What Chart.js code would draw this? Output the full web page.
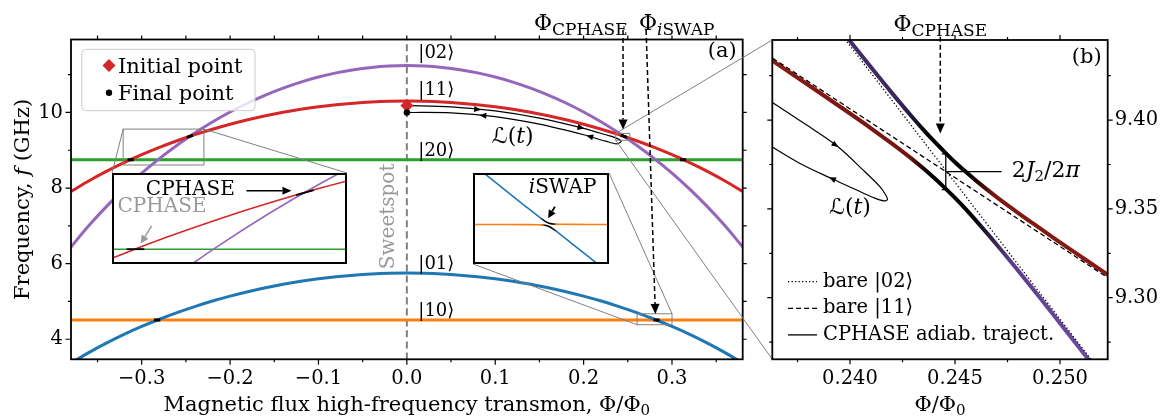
<!DOCTYPE html>
<html lang="en">
<head>
<meta charset="UTF-8">
<title>Transmon spectrum and CPHASE trajectory</title>
<script src="https://cdn.jsdelivr.net/npm/chart.js"></script>
<style>
  html, body { margin: 0; padding: 0; background: #fff; }
  #wrap { position: relative; width: 1165px; height: 420px; overflow: hidden; }
  #wrap canvas { position: absolute; }
</style>
</head>
<body>
<div id="wrap">
  <canvas id="chartA" width="1165" height="420" style="left:0;top:0"></canvas>
  <canvas id="chartB" width="1165" height="420" style="left:0;top:0"></canvas>
  <canvas id="inset1" width="235" height="91" style="left:112px;top:173px"></canvas>
  <canvas id="inset2" width="136" height="91" style="left:473px;top:173px"></canvas>
</div>
<script>
// ---------- panel (a): energy levels vs flux ----------
const flux = [-0.38, -0.36, -0.34, -0.32, -0.30, -0.28, -0.26, -0.24, -0.22, -0.20, -0.18, -0.16, -0.14, -0.12, -0.10, -0.08, -0.06, -0.04, -0.02, 0.00,
  0.02, 0.04, 0.06, 0.08, 0.10, 0.12, 0.14, 0.16, 0.18, 0.20, 0.22, 0.24, 0.26, 0.28, 0.30, 0.32, 0.34, 0.36, 0.38];
const level01 = [3.371, 3.648, 3.899, 4.129, 4.338, 4.530, 4.706, 4.865, 5.011, 5.142, 5.259, 5.363, 5.455, 5.534, 5.600, 5.654, 5.696, 5.726, 5.744, 5.750,
  5.744, 5.726, 5.696, 5.654, 5.600, 5.534, 5.455, 5.363, 5.259, 5.142, 5.011, 4.865, 4.706, 4.530, 4.338, 4.129, 3.899, 3.648, 3.371];
const level11 = [7.910, 8.188, 8.441, 8.671, 8.882, 9.075, 9.251, 9.412, 9.557, 9.689, 9.807, 9.912, 10.004, 10.083, 10.149, 10.204, 10.246, 10.276, 10.294, 10.300,
  10.294, 10.276, 10.246, 10.204, 10.149, 10.083, 10.004, 9.912, 9.807, 9.689, 9.557, 9.412, 9.251, 9.075, 8.882, 8.671, 8.441, 8.188, 7.910];
const level02 = [6.442, 7.001, 7.508, 7.970, 8.393, 8.780, 9.134, 9.456, 9.749, 10.013, 10.250, 10.461, 10.645, 10.804, 10.938, 11.047, 11.132, 11.192, 11.228, 11.240,
  11.228, 11.192, 11.132, 11.047, 10.938, 10.804, 10.645, 10.461, 10.250, 10.013, 9.749, 9.456, 9.134, 8.780, 8.393, 7.970, 7.508, 7.001, 6.442];
const levelFlux = [-0.38, 0.38];
const level10 = [4.51, 4.51];
const level20 = [8.75, 8.75];

const initialPoint = [0, 10.185];
const finalPoint = [0, 10.0];

// schematic trajectory L(t), out along the upper edge and back along the lower one
const loopFluxA = [0, 0.05, 0.10, 0.15, 0.20, 0.225, 0.237, 0.2425, 0.237, 0.225, 0.20, 0.15, 0.10, 0.05, 0];
const loopFreqA = [10.185, 10.15, 10.04, 9.85, 9.58, 9.41, 9.32, 9.235, 9.17, 9.24, 9.41, 9.69, 9.89, 9.99, 10.0];

// short black pieces at the level crossings
const crossMarks = [
  [[-0.3160, 8.75], [-0.3090, 8.75]],
  [[-0.2490, 9.340], [-0.2420, 9.396]],
  [[0.2420, 9.396], [0.2490, 9.340]],
  [[0.3090, 8.75], [0.3160, 8.75]],
  [[-0.2860, 4.51], [-0.2790, 4.51]],
  [[0.2790, 4.51], [0.2860, 4.51]]
];

const xRangeA = [-0.38, 0.38];
const yRangeA = [3.47, 11.93];
const xMajorA = [-0.3, -0.2, -0.1, 0, 0.1, 0.2, 0.3];
const xMinorA = [-0.35, -0.25, -0.15, -0.05, 0.05, 0.15, 0.25, 0.35];
const yMajorA = [4, 6, 8, 10];
const yMinorA = [5, 7, 9, 11];

// zoomed regions
const zoomCphase = { x: [-0.321, -0.2296], y: [8.61, 9.56] };
const zoomIswap = { x: [0.2605, 0.300], y: [4.385, 4.675] };

// gate fluxes (arrows)
const cphaseArrowA = [[0.2446, 12.18], [0.2446, 9.55]];
const iswapArrowA = [[0.2707, 12.18], [0.2812, 4.67]];
const loopArrowsA = [
  [[0.072, 10.100], [0.084, 10.074]],
  [[0.190, 9.634], [0.201, 9.573]],
  [[0.095, 9.900], [0.082, 9.926]],
  [[0.214, 9.315], [0.203, 9.390]]
];

// inset at the iSWAP point: avoided crossing of |01> and |10>
const fluxI = [0.2600, 0.2700, 0.2760, 0.2790, 0.2805, 0.2815, 0.2825, 0.2835, 0.2845, 0.2860, 0.2890, 0.2950, 0.3000];
const upperI = [4.7095, 4.6206, 4.5674, 4.5411, 4.5283, 4.5204, 4.5146, 4.5121, 4.5113, 4.5108, 4.5104, 4.5102, 4.5102];
const lowerI = [4.5099, 4.5098, 4.5096, 4.5092, 4.5086, 4.5076, 4.5045, 4.4981, 4.4901, 4.4772, 4.4508, 4.3976, 4.3532];

// ---------- panel (b): zoom on the |11>-|02> avoided crossing ----------
const xRangeB = [0.2363, 0.25227];
const yRangeB = [9.2653, 9.4451];
const xMajorB = [0.240, 0.245, 0.250];
const xMinorB = [0.2375, 0.2425, 0.2475];
const yMajorB = [9.30, 9.35, 9.40];
const yMinorB = [9.275, 9.325, 9.375, 9.425];

const bareFluxB = [0.2360, 0.2525];
const bare02B = [9.5035, 9.2494];
const bare11B = [9.4373, 9.3095];
const fluxB = [0.2360, 0.2380, 0.2400, 0.2410, 0.2420, 0.2430, 0.2435, 0.2440, 0.2445, 0.2450, 0.2455, 0.2460, 0.2470, 0.2480, 0.2490, 0.2500, 0.2510, 0.2525];
const upperB = [9.5050, 9.4746, 9.4445, 9.4297, 9.4152, 9.4012, 9.3945, 9.3881, 9.3821, 9.3763, 9.3710, 9.3659, 9.3565, 9.3478, 9.3394, 9.3311, 9.3231, 9.3111];
const lowerB = [9.4359, 9.4199, 9.4037, 9.3954, 9.3867, 9.3776, 9.3727, 9.3675, 9.3620, 9.3562, 9.3500, 9.3434, 9.3297, 9.3153, 9.3006, 9.2856, 9.2705, 9.2478];
const loopFluxB = [0.2360, 0.23794, 0.23937, 0.24063, 0.24143, 0.24171, 0.24178, 0.24162, 0.24111, 0.24016, 0.2392, 0.23762, 0.2360];
const loopFreqB = [9.4123, 9.3972, 9.3855, 9.3718, 9.3624, 9.3577, 9.3553, 9.3545, 9.3564, 9.3615, 9.3667, 9.3756, 9.3870];
const loopArrowsB = [
  [[0.2390, 9.3885], [0.23945, 9.3848]],
  [[0.2395, 9.3651], [0.2390, 9.3678]]
];
const cphaseArrowB = [[0.2443, 9.447], [0.2443, 9.3925]];
const gapFlux = 0.24456;
const gapLevels = [9.3609, 9.3810];
const gapLabelFlux = 0.24722;

// ---------- styles ----------
const FAM = '"DejaVu Serif", "DejaVu Sans", serif';
const C = { blue: '#1f77b4', orange: '#ff7f0e', green: '#2ca02c', red: '#d62728', purple: '#9467bd' };
Chart.defaults.font.family = FAM;
Chart.defaults.font.size = 21;
Chart.defaults.color = '#000';

const font = (size, style) => `${style || ''} ${size}px ${FAM}`.trim();
const pts = (xs, ys) => xs.map((x, i) => ({ x, y: ys[i] }));

function curve(xs, ys, color, width, extra) {
  return Object.assign({
    data: pts(xs, ys), showLine: true, borderColor: color, borderWidth: width,
    pointRadius: 0, fill: false, clip: 0, cubicInterpolationMode: 'monotone'
  }, extra || {});
}

function fluxGradient(chart, stops, fallback) {
  const xs = chart.scales.x;
  if (!chart.chartArea || !xs) return fallback;
  const x0 = xs.getPixelForValue(stops[0][0]);
  const x1 = xs.getPixelForValue(stops[stops.length - 1][0]);
  const g = chart.ctx.createLinearGradient(x0, 0, x1, 0);
  stops.forEach(([f, c]) => g.addColorStop(Math.min(1, Math.max(0, (xs.getPixelForValue(f) - x0) / (x1 - x0))), c));
  return g;
}

function richText(ctx, parts, x, y, align) {
  let w = 0;
  parts.forEach(p => { ctx.font = font(p[1], p[2]); w += ctx.measureText(p[0]).width; });
  let cx = align === 'center' ? x - w / 2 : align === 'right' ? x - w : x;
  ctx.textAlign = 'left';
  parts.forEach(p => {
    ctx.font = font(p[1], p[2]);
    ctx.fillText(p[0], cx, y + (p[3] || 0));
    cx += ctx.measureText(p[0]).width;
  });
}

function arrow(ctx, x0, y0, x1, y1, o) {
  const opt = Object.assign({ color: '#000', width: 1.5, dash: [], head: 9, half: 4, line: true }, o || {});
  const a = Math.atan2(y1 - y0, x1 - x0);
  const bx = x1 - opt.head * Math.cos(a), by = y1 - opt.head * Math.sin(a);
  if (opt.line) {
    ctx.beginPath();
    ctx.setLineDash(opt.dash);
    ctx.moveTo(x0, y0);
    ctx.lineTo(bx, by);
    ctx.strokeStyle = opt.color;
    ctx.lineWidth = opt.width;
    ctx.stroke();
    ctx.setLineDash([]);
  }
  ctx.beginPath();
  ctx.moveTo(x1, y1);
  ctx.lineTo(bx - opt.half * Math.sin(a), by + opt.half * Math.cos(a));
  ctx.lineTo(bx + opt.half * Math.sin(a), by - opt.half * Math.cos(a));
  ctx.closePath();
  ctx.fillStyle = opt.color;
  ctx.fill();
}

function seg(ctx, x0, y0, x1, y1) {
  ctx.beginPath(); ctx.moveTo(x0, y0); ctx.lineTo(x1, y1); ctx.stroke();
}

function frameTicks(chart, xMaj, xMin, yMaj, yMin, len) {
  const { ctx, chartArea: a } = chart;
  const X = v => chart.scales.x.getPixelForValue(v);
  const Y = v => chart.scales.y.getPixelForValue(v);
  ctx.save();
  ctx.strokeStyle = '#000';
  ctx.lineWidth = 1.2;
  ctx.beginPath();
  const xt = (v, b, t) => { const p = X(v); ctx.moveTo(p, a.bottom); ctx.lineTo(p, a.bottom + b); ctx.moveTo(p, a.top); ctx.lineTo(p, a.top - t); };
  const yt = (v, l, r) => { const p = Y(v); ctx.moveTo(a.left, p); ctx.lineTo(a.left - l, p); ctx.moveTo(a.right, p); ctx.lineTo(a.right + r, p); };
  xMaj.forEach(v => xt(v, len[0], len[2]));
  xMin.forEach(v => xt(v, len[1], len[3]));
  yMaj.forEach(v => yt(v, len[0], len[2]));
  yMin.forEach(v => yt(v, len[1], len[3]));
  ctx.stroke();
  ctx.lineWidth = 1.8;
  ctx.strokeRect(a.left, a.top, a.right - a.left, a.bottom - a.top);
  ctx.restore();
}

const signed = (v, d) => (v < -1e-9 ? '\u2212' : '') + Math.abs(v).toFixed(d);

function axisOpts(range, ticks, fmt, pad, extra) {
  return Object.assign({
    type: 'linear', min: range[0], max: range[1],
    grid: { display: false, drawTicks: false }, border: { display: false },
    afterBuildTicks: s => { s.ticks = ticks.map(v => ({ value: v })); },
    ticks: { autoSkip: false, maxRotation: 0, padding: pad, font: { size: 19.5 }, color: '#000', callback: fmt }
  }, extra);
}

const insetBox1 = { left: 112, top: 173, width: 235, height: 91 };
const insetBox2 = { left: 473, top: 173, width: 136, height: 91 };

// ---------- chart (b) ----------
const branchUpperStops = [[0.2360, '#563a84'], [0.2424, '#3a2757'], [0.2437, '#000'], [0.2457, '#000'], [0.2469, '#7d1712'], [0.2525, '#8c1a15']];
const branchLowerStops = [[0.2360, '#8c1a15'], [0.2428, '#731410'], [0.2437, '#000'], [0.2458, '#000'], [0.2476, '#5c3d8d'], [0.2525, '#7550ac']];

const panelB = {
  id: 'panelB',
  afterDraw(chart) {
    const { ctx, chartArea: a } = chart;
    const X = v => chart.scales.x.getPixelForValue(v);
    const Y = v => chart.scales.y.getPixelForValue(v);
    frameTicks(chart, xMajorB, xMinorB, yMajorB, yMinorB, [5, 3, 5, 3]);
    ctx.save();
    ctx.fillStyle = '#000';
    ctx.textBaseline = 'alphabetic';
    // gate flux arrow
    richText(ctx, [['\u03A6', 22], ['CPHASE', 17, '', 5]], X(cphaseArrowB[0][0]), 31, 'center');
    arrow(ctx, X(cphaseArrowB[0][0]), Y(cphaseArrowB[0][1]), X(cphaseArrowB[1][0]), Y(cphaseArrowB[1][1]), { dash: [5, 3], head: 10, half: 4.5 });
    // 2J2 bracket
    ctx.strokeStyle = '#000'; ctx.lineWidth = 1.3;
    const gx = X(gapFlux), g0 = Y(gapLevels[0]), g1 = Y(gapLevels[1]), gm = (g0 + g1) / 2;
    ctx.beginPath();
    ctx.moveTo(gx - 4, g1); ctx.lineTo(gx, g1); ctx.lineTo(gx, g0); ctx.lineTo(gx - 4, g0);
    ctx.stroke();
    seg(ctx, gx, gm, X(gapLabelFlux), gm);
    ctx.textBaseline = 'middle';
    richText(ctx, [['2', 22], ['J', 22, 'italic'], ['2', 15, '', 5], ['/2', 22], ['\u03C0', 22, 'italic']], X(gapLabelFlux) + 10, gm, 'left');
    // trajectory label and arrows
    richText(ctx, [['\u2112', 22], ['(', 22], ['t', 22, 'italic'], [')', 22]], X(0.2400), Y(9.3504), 'center');
    loopArrowsB.forEach(([p, q]) => arrow(ctx, X(p[0]), Y(p[1]), X(q[0]), Y(q[1]), { line: false, head: 7, half: 3 }));
    // legend
    const rows = [['bare |02\u27E9', [1.3, 2.2]], ['bare |11\u27E9', [5, 3]], ['CPHASE adiab. traject.', []]];
    rows.forEach((r, i) => {
      const y = 281.7 + i * 26.6;
      ctx.setLineDash(r[1]); ctx.lineWidth = 1.3;
      seg(ctx, 788, y, 817, y);
      ctx.setLineDash([]);
      ctx.font = font(19.5); ctx.textAlign = 'left'; ctx.textBaseline = 'middle';
      ctx.fillText(r[0], 823, y);
    });
    // panel label and axis title
    ctx.font = font(21); ctx.textAlign = 'right'; ctx.textBaseline = 'middle';
    ctx.fillText('(b)', a.right - 6, 57.5);
    ctx.textBaseline = 'alphabetic';
    richText(ctx, [['\u03A6/\u03A6', 21], ['0', 15, '', 4]], (a.left + a.right) / 2, 410.5, 'center');
    ctx.restore();
  }
};

const chartB = new Chart(document.getElementById('chartB'), {
  type: 'scatter',
  data: {
    datasets: [
      curve(bareFluxB, bare02B, '#000', 1.3, { borderDash: [1.3, 2.2], order: 1 }),
      curve(bareFluxB, bare11B, '#000', 1.3, { borderDash: [5, 3], order: 1 }),
      curve(fluxB, upperB, c => fluxGradient(c.chart, branchUpperStops, C.purple), 4, { order: 2 }),
      curve(fluxB, lowerB, c => fluxGradient(c.chart, branchLowerStops, C.red), 4, { order: 2 }),
      curve(loopFluxB, loopFreqB, '#000', 1.2, { cubicInterpolationMode: 'default', tension: 0.35, order: 0 })
    ]
  },
  options: {
    responsive: false, animation: false, devicePixelRatio: 1, events: [],
    layout: { padding: { left: 772.3, right: 7.3, top: 40, bottom: 20.7 } },
    plugins: { legend: { display: false }, tooltip: { enabled: false } },
    scales: {
      x: axisOpts(xRangeB, xMajorB, v => v.toFixed(3), 8, { afterFit: s => { s.height = 40; } }),
      y: axisOpts(yRangeB, yMajorB, v => v.toFixed(2), 7, { position: 'right', afterFit: s => { s.width = 50; } })
    }
  },
  plugins: [panelB]
});

// ---------- chart (a) ----------
const panelA = {
  id: 'panelA',
  afterDraw(chart) {
    const { ctx, chartArea: a } = chart;
    const X = v => chart.scales.x.getPixelForValue(v);
    const Y = v => chart.scales.y.getPixelForValue(v);
    frameTicks(chart, xMajorA, xMinorA, yMajorA, yMinorA, [5.5, 3, 4, 4]);
    ctx.save();
    // zoom rectangles and connectors
    ctx.strokeStyle = '#808080'; ctx.lineWidth = 1;
    const bz = { x: xRangeB, y: yRangeB };
    [zoomCphase, zoomIswap, bz].forEach(z => {
      ctx.strokeRect(X(z.x[0]), Y(z.y[1]), X(z.x[1]) - X(z.x[0]), Y(z.y[0]) - Y(z.y[1]));
    });
    seg(ctx, X(zoomCphase.x[0]), Y(zoomCphase.y[1]), insetBox1.left, insetBox1.top);
    seg(ctx, X(zoomCphase.x[1]), Y(zoomCphase.y[1]), insetBox1.left + insetBox1.width, insetBox1.top);
    seg(ctx, X(zoomIswap.x[0]), Y(zoomIswap.y[0]), insetBox2.left, insetBox2.top + insetBox2.height);
    seg(ctx, X(zoomIswap.x[1]), Y(zoomIswap.y[1]), insetBox2.left + insetBox2.width, insetBox2.top);
    const bArea = chartB.chartArea;
    seg(ctx, X(bz.x[0]), Y(bz.y[1]), bArea.left, bArea.top);
    seg(ctx, X(bz.x[0]), Y(bz.y[0]), bArea.left, bArea.bottom);

    // legend
    ctx.beginPath();
    ctx.roundRect(81.7, 49.3, 173.3, 61.4, 4);
    ctx.fillStyle = 'rgba(255,255,255,0.8)'; ctx.fill();
    ctx.strokeStyle = '#cccccc'; ctx.lineWidth = 1; ctx.stroke();
    ctx.fillStyle = C.red;
    ctx.beginPath();
    ctx.moveTo(109, 59); ctx.lineTo(115.5, 65.5); ctx.lineTo(109, 72); ctx.lineTo(102.5, 65.5); ctx.closePath(); ctx.fill();
    ctx.fillStyle = '#000';
    ctx.beginPath(); ctx.arc(109, 92.7, 3.2, 0, Math.PI * 2); ctx.fill();
    ctx.font = font(21); ctx.textAlign = 'left'; ctx.textBaseline = 'alphabetic';
    ctx.fillText('Initial point', 118, 72.5);
    ctx.fillText('Final point', 118, 99.5);

    // level labels
    ctx.font = font(18); ctx.textBaseline = 'middle';
    [['|02\u27E9', 11.574], ['|11\u27E9', 10.595], ['|20\u27E9', 8.98], ['|01\u27E9', 5.99], ['|10\u27E9', 4.75]].forEach(([t, f]) => {
      ctx.fillText(t, X(0.013), Y(f));
    });
    // sweetspot
    ctx.save();
    ctx.translate(X(-0.0205), Y(7.25));
    ctx.rotate(-Math.PI / 2);
    ctx.font = font(20); ctx.fillStyle = '#999999'; ctx.textAlign = 'center'; ctx.textBaseline = 'middle';
    ctx.fillText('Sweetspot', 0, 0);
    ctx.restore();
    // trajectory label and arrows
    ctx.fillStyle = '#000';
    richText(ctx, [['\u2112', 22], ['(', 22], ['t', 22, 'italic'], [')', 22]], X(0.1198), Y(9.339), 'center');
    loopArrowsA.forEach(([p, q]) => arrow(ctx, X(p[0]), Y(p[1]), X(q[0]), Y(q[1]), { line: false, head: 7, half: 3 }));
    // gate arrows
    ctx.textBaseline = 'alphabetic';
    richText(ctx, [['\u03A6', 22], ['CPHASE', 17, '', 5]], 534, 30, 'left');
    richText(ctx, [['\u03A6', 22], ['i', 17, 'italic', 5], ['SWAP', 17, '', 5]], 639, 30, 'left');
    arrow(ctx, X(cphaseArrowA[0][0]), Y(cphaseArrowA[0][1]), X(cphaseArrowA[1][0]), Y(cphaseArrowA[1][1]), { dash: [5, 3], head: 10, half: 4.5 });
    arrow(ctx, X(iswapArrowA[0][0]), Y(iswapArrowA[0][1]), X(iswapArrowA[1][0]), Y(iswapArrowA[1][1]), { dash: [5, 3], head: 10, half: 4.5 });
    // panel label, axis titles
    ctx.fillStyle = '#000';
    ctx.font = font(21); ctx.textAlign = 'right'; ctx.textBaseline = 'middle';
    ctx.fillText('(a)', a.right - 6, 51.7);
    ctx.textBaseline = 'alphabetic';
    richText(ctx, [['Magnetic flux high-frequency transmon, \u03A6/\u03A6', 21], ['0', 15, '', 4]], (a.left + a.right) / 2, 410.5, 'center');
    ctx.save();
    ctx.translate(29.3, (a.top + a.bottom) / 2);
    ctx.rotate(-Math.PI / 2);
    richText(ctx, [['Frequency, ', 21], ['f', 21, 'italic'], [' (GHz)', 21]], 0, 0, 'center');
    ctx.restore();
    ctx.restore();
  }
};

const chartA = new Chart(document.getElementById('chartA'), {
  type: 'scatter',
  data: {
    datasets: [
      curve([0, 0], yRangeA, '#808080', 2, { borderDash: [7, 4], order: 10 }),
      curve(levelFlux, level10, C.orange, 3, { order: 6 }),
      curve(flux, level01, C.blue, 3, { order: 5 }),
      curve(levelFlux, level20, C.green, 3, { order: 6 }),
      curve(flux, level02, C.purple, 3, { order: 5 }),
      curve(flux, level11, C.red, 3, { order: 4 }),
      ...crossMarks.map(m => curve([m[0][0], m[1][0]], [m[0][1], m[1][1]], '#000', 3, { order: 3 })),
      curve(loopFluxA, loopFreqA, '#000', 1.2, { cubicInterpolationMode: 'default', tension: 0.3, order: 2 }),
      { data: [{ x: initialPoint[0], y: initialPoint[1] }], pointStyle: 'rectRot', pointRadius: 6.5, backgroundColor: C.red, borderWidth: 0, order: 1 },
      { data: [{ x: finalPoint[0], y: finalPoint[1] }], pointStyle: 'circle', pointRadius: 3.2, backgroundColor: '#000', borderWidth: 0, order: 0 }
    ]
  },
  options: {
    responsive: false, animation: false, devicePixelRatio: 1, events: [],
    layout: { padding: { left: 31, right: 422.3, top: 39.5, bottom: 20.7 } },
    plugins: { legend: { display: false }, tooltip: { enabled: false } },
    scales: {
      x: axisOpts(xRangeA, xMajorA, v => signed(v, 1), 8, { afterFit: s => { s.height = 40; } }),
      y: axisOpts(yRangeA, yMajorA, v => String(v), 8, { afterFit: s => { s.width = 40; } })
    }
  },
  plugins: [panelA]
});

// ---------- insets ----------
function insetFrame(notes) {
  return {
    id: 'insetFrame',
    beforeDraw(chart) {
      const { ctx, width, height } = chart;
      ctx.save(); ctx.fillStyle = '#fff'; ctx.fillRect(0, 0, width, height); ctx.restore();
    },
    afterDraw(chart) {
      const { ctx, width, height } = chart;
      const X = v => chart.scales.x.getPixelForValue(v);
      const Y = v => chart.scales.y.getPixelForValue(v);
      ctx.save();
      notes(ctx, X, Y);
      ctx.strokeStyle = '#000'; ctx.lineWidth = 2;
      ctx.strokeRect(1, 1, width - 2, height - 2);
      ctx.restore();
    }
  };
}

function insetOptions(range) {
  return {
    responsive: false, animation: false, devicePixelRatio: 1, events: [],
    layout: { padding: 2 },
    plugins: { legend: { display: false }, tooltip: { enabled: false } },
    scales: {
      x: { type: 'linear', display: false, min: range.x[0], max: range.x[1] },
      y: { type: 'linear', display: false, min: range.y[0], max: range.y[1] }
    }
  };
}

new Chart(document.getElementById('inset1'), {
  type: 'scatter',
  data: {
    datasets: [
      curve(levelFlux, level20, C.green, 1.6, { order: 4 }),
      curve(flux, level02, C.purple, 1.6, { order: 3 }),
      curve(flux, level11, C.red, 1.6, { order: 2 }),
      ...crossMarks.slice(0, 2).map(m => curve([m[0][0], m[1][0]], [m[0][1], m[1][1]], '#000', 1.8, { order: 1 }))
    ]
  },
  options: insetOptions(zoomCphase),
  plugins: [insetFrame((ctx, X, Y) => {
    ctx.textBaseline = 'middle';
    ctx.fillStyle = '#000';
    richText(ctx, [['CPHASE', 20]], X(-0.2908), Y(9.397), 'center');
    arrow(ctx, X(-0.2686), Y(9.389), X(-0.2508), Y(9.389), { head: 9, half: 4, width: 1.5 });
    ctx.fillStyle = '#999999';
    richText(ctx, [['CPHASE', 20]], X(-0.302), Y(9.211), 'center');
    arrow(ctx, X(-0.3061), Y(9.005), X(-0.3104), Y(8.813), { color: '#999999', head: 8, half: 4, width: 1.5 });
  })]
});

const iswapUpperStops = [[0.2600, C.blue], [0.2800, C.blue], [0.2812, '#000'], [0.2836, '#000'], [0.2850, C.orange], [0.3000, C.orange]];
const iswapLowerStops = [[0.2600, C.orange], [0.2803, C.orange], [0.2815, '#000'], [0.2838, '#000'], [0.2852, C.blue], [0.3000, C.blue]];

new Chart(document.getElementById('inset2'), {
  type: 'scatter',
  data: {
    datasets: [
      curve(fluxI, upperI, c => fluxGradient(c.chart, iswapUpperStops, C.blue), 1.6),
      curve(fluxI, lowerI, c => fluxGradient(c.chart, iswapLowerStops, C.orange), 1.6)
    ]
  },
  options: insetOptions(zoomIswap),
  plugins: [insetFrame((ctx, X, Y) => {
    ctx.textBaseline = 'middle';
    ctx.fillStyle = '#000';
    richText(ctx, [['i', 20, 'italic'], ['SWAP', 20]], X(0.2867), Y(4.631), 'center');
    arrow(ctx, X(0.2844), Y(4.569), X(0.2824), Y(4.531), { head: 8, half: 4, width: 1.8 });
  })]
});
</script>
</body>
</html>
